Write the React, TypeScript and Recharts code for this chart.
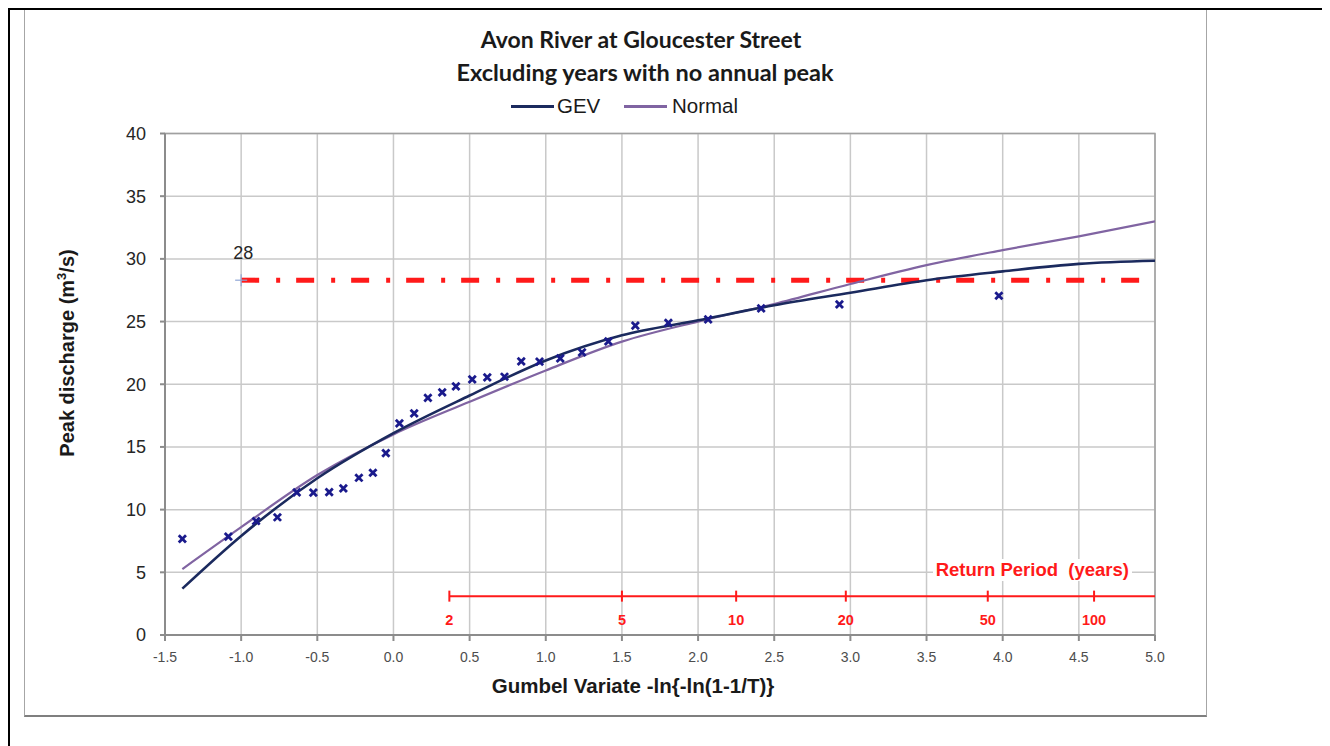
import React from 'react';
import {
  ComposedChart,
  Line,
  Scatter,
  XAxis,
  YAxis,
  CartesianGrid,
  ReferenceArea,
  ReferenceLine,
  ReferenceDot,
} from 'recharts';

// Observed annual peaks (Gumbel variate, discharge m3/s)
const obsX = [-1.386, -1.084, -0.902, -0.762, -0.635, -0.526, -0.422, -0.329, -0.227, -0.135, -0.05, 0.039, 0.136, 0.226, 0.32, 0.41, 0.517, 0.616, 0.729, 0.839, 0.959, 1.095, 1.238, 1.411, 1.588, 1.805, 2.066, 2.414, 2.928, 3.975];
const obsY = [7.66, 7.84, 9.09, 9.39, 11.38, 11.35, 11.4, 11.7, 12.54, 12.94, 14.51, 16.88, 17.68, 18.92, 19.35, 19.83, 20.39, 20.55, 20.6, 21.83, 21.8, 22.07, 22.54, 23.42, 24.67, 24.9, 25.17, 26.05, 26.37, 27.06];

// GEV fitted curve
const gevX = [-1.386, -1.0, -0.5, 0.0, 0.5, 1.0, 1.5, 2.0, 2.5, 3.0, 3.5, 4.0, 4.5, 5.0];
const gevY = [3.7, 7.9, 12.5, 16.1, 19.1, 21.9, 23.9, 25.1, 26.3, 27.3, 28.3, 29.0, 29.6, 29.85];

// Normal fitted curve
const normX = [-1.386, -1.0, -0.5, 0.0, 0.5, 1.0, 1.5, 2.0, 2.5, 3.0, 3.5, 4.0, 4.5, 5.0];
const normY = [5.26, 8.6, 12.76, 16.0, 18.6, 21.1, 23.4, 25.0, 26.4, 28.0, 29.5, 30.7, 31.8, 33.0];

// Threshold line
const thresholdValue = 28.3;
const thresholdLabel = '28';
const thresholdStartX = -1.0;
const thresholdEndX = 5.0;

// Return period axis
const returnPeriods = ['2', '5', '10', '20', '50', '100'];
const returnPeriodX = [0.367, 1.5, 2.25, 2.97, 3.902, 4.6];
const returnAxisY = 3.1;
const returnAxisEndX = 5.0;

const xTicks = [-1.5, -1.0, -0.5, 0.0, 0.5, 1.0, 1.5, 2.0, 2.5, 3.0, 3.5, 4.0, 4.5, 5.0];
const yTicks = [0, 5, 10, 15, 20, 25, 30, 35, 40];

const obsData = obsX.map((x, i) => ({ x, y: obsY[i] }));
const gevData = gevX.map((x, i) => ({ x, y: gevY[i] }));
const normData = normX.map((x, i) => ({ x, y: normY[i] }));

const GEV_COLOR = '#1b2a5e';
const NORM_COLOR = '#8064a2';
const MARK_COLOR = '#1a1a8c';
const RED = '#ff1a1a';
const SANS = '"Liberation Sans", Arial, sans-serif';

const XMark = (props: any) => {
  const { cx, cy } = props;
  if (cx == null || cy == null) return null;
  const s = 3.6;
  return (
    <g>
      <line x1={cx - s} y1={cy - s} x2={cx + s} y2={cy + s} stroke={MARK_COLOR} strokeWidth={2.8} />
      <line x1={cx - s} y1={cy + s} x2={cx + s} y2={cy - s} stroke={MARK_COLOR} strokeWidth={2.8} />
    </g>
  );
};

const ThresholdMarker = (props: any) => {
  const { cx, cy } = props;
  if (cx == null || cy == null) return null;
  return (
    <g>
      <line x1={cx - 6} y1={cy} x2={cx + 6} y2={cy} stroke="#8fa6d6" strokeWidth={1.2} />
      <line x1={cx} y1={cy - 6} x2={cx} y2={cy + 6} stroke="#8fa6d6" strokeWidth={1.2} />
      <text x={cx + 2} y={cy - 27} textAnchor="middle" dominantBaseline="central" fontFamily={SANS} fontSize={18} fill="#262626">
        {thresholdLabel}
      </text>
    </g>
  );
};

const makeRPTick = (label: string) => (props: any) => {
  const { cx, cy } = props;
  if (cx == null || cy == null) return null;
  return (
    <g>
      <line x1={cx} y1={cy - 5.5} x2={cx} y2={cy + 5.5} stroke={RED} strokeWidth={2} />
      <text x={cx} y={cy + 24} textAnchor="middle" dominantBaseline="central" fontFamily={SANS} fontWeight="bold" fontSize={14.5} fill={RED}>
        {label}
      </text>
    </g>
  );
};

export default function App() {
  return (
    <div style={{ position: 'relative', width: 1322, height: 738, fontFamily: SANS, background: '#fff' }}>
      {/* outer black frame */}
      <div style={{ position: 'absolute', left: 0, top: 0, width: 1322, height: 2, background: '#000' }} />
      <div style={{ position: 'absolute', left: 0, top: 0, width: 2, height: 738, background: '#000' }} />
      {/* chart box */}
      <div
        style={{
          position: 'absolute',
          left: 16,
          top: 2,
          width: 1183,
          height: 707,
          borderLeft: '1px solid #a6a6a6',
          borderRight: '1px solid #a6a6a6',
          borderBottom: '2px solid #7f7f7f',
          boxSizing: 'border-box',
        }}
      />
      {/* titles */}
      <div style={{ position: 'absolute', left: 0, width: 1266, top: 17, textAlign: 'center', fontFamily: 'Lato, sans-serif', fontWeight: 'bold', fontSize: 23, color: '#1a1a1a', lineHeight: '28px' }}>
        Avon River at Gloucester Street
      </div>
      <div style={{ position: 'absolute', left: 0, width: 1274, top: 50, textAlign: 'center', fontFamily: 'Lato, sans-serif', fontWeight: 'bold', fontSize: 23.5, color: '#1a1a1a', lineHeight: '28px' }}>
        Excluding years with no annual peak
      </div>
      {/* legend */}
      <div style={{ position: 'absolute', left: 503, top: 97, width: 43, height: 3, background: GEV_COLOR }} />
      <div style={{ position: 'absolute', left: 549, top: 86, fontSize: 20.5, color: '#1a1a1a', lineHeight: '24px' }}>GEV</div>
      <div style={{ position: 'absolute', left: 616, top: 97, width: 43, height: 3, background: NORM_COLOR }} />
      <div style={{ position: 'absolute', left: 664, top: 86, fontSize: 20.5, color: '#1a1a1a', lineHeight: '24px' }}>Normal</div>
      {/* y axis title */}
      <div style={{ position: 'absolute', left: 59, top: 345, width: 0, height: 0 }}>
        <div
          style={{
            position: 'absolute',
            left: 0,
            top: 0,
            transform: 'translate(-50%, -50%) rotate(-90deg)',
            whiteSpace: 'nowrap',
            fontWeight: 'bold',
            fontSize: 20,
            color: '#1a1a1a',
            lineHeight: '22px',
          }}
        >
          Peak discharge (m<sup style={{ fontSize: 13, verticalAlign: 'top', lineHeight: '12px' }}>3</sup>/s)
        </div>
      </div>
      {/* x axis title */}
      <div style={{ position: 'absolute', left: 0, width: 1250, top: 666, textAlign: 'center', fontWeight: 'bold', fontSize: 20.5, color: '#1a1a1a', lineHeight: '24px' }}>
        Gumbel Variate -ln{'{'}-ln(1-1/T){'}'}
      </div>

      <div style={{ position: 'absolute', left: 0, top: 0 }}>
        <ComposedChart width={1322} height={738} margin={{ top: 125.5, right: 175, bottom: 81, left: 97 }}>
          <CartesianGrid stroke="#c9c9c9" strokeWidth={1.5} horizontal vertical />
          <XAxis
            dataKey="x"
            type="number"
            domain={[-1.5, 5]}
            ticks={xTicks}
            allowDataOverflow
            tickFormatter={(v: number) => v.toFixed(1)}
            height={30}
            stroke="#8c8c8c"
            strokeWidth={2}
            tickSize={6}
            tickMargin={11}
            tick={{ fontSize: 14, fill: '#4d4d4d', fontFamily: SANS }}
          />
          <YAxis
            dataKey="y"
            type="number"
            domain={[0, 40]}
            ticks={yTicks}
            allowDataOverflow
            width={60}
            stroke="#8c8c8c"
            strokeWidth={2}
            tickSize={5}
            tickMargin={14}
            tick={{ fontSize: 18, fill: '#262626', fontFamily: SANS }}
          />
          <ReferenceArea x1={-1.5} x2={5} y1={0} y2={40} fill="none" stroke="#a0a0a0" strokeWidth={1.5} ifOverflow="visible" />
          <ReferenceLine
            segment={[
              { x: thresholdStartX, y: thresholdValue },
              { x: thresholdEndX, y: thresholdValue },
            ]}
            stroke={RED}
            strokeWidth={5}
            strokeDasharray="18 17 4 16"
            ifOverflow="visible"
          />
          <ReferenceLine
            segment={[
              { x: returnPeriodX[0], y: returnAxisY },
              { x: returnAxisEndX, y: returnAxisY },
            ]}
            stroke={RED}
            strokeWidth={2}
            ifOverflow="visible"
          />
          {returnPeriods.map((lbl, i) => (
            <ReferenceDot key={lbl} x={returnPeriodX[i]} y={returnAxisY} shape={makeRPTick(lbl)} ifOverflow="visible" />
          ))}
          <ReferenceDot x={thresholdStartX} y={thresholdValue} shape={ThresholdMarker} ifOverflow="visible" />
          <Line data={normData} dataKey="y" type="monotone" stroke={NORM_COLOR} strokeWidth={2.2} dot={false} isAnimationActive={false} />
          <Line data={gevData} dataKey="y" type="monotone" stroke={GEV_COLOR} strokeWidth={2.6} dot={false} isAnimationActive={false} />
          <Scatter data={obsData} dataKey="y" shape={XMark} isAnimationActive={false} />
        </ComposedChart>
      </div>
      {/* return period caption */}
      <div style={{ position: 'absolute', right: 1322 - 1124, top: 551, fontWeight: 'bold', fontSize: 18.5, color: RED, lineHeight: '22px', background: '#fff', padding: '0 3px', whiteSpace: 'pre' }}>
        Return Period  (years)
      </div>
    </div>
  );
}
